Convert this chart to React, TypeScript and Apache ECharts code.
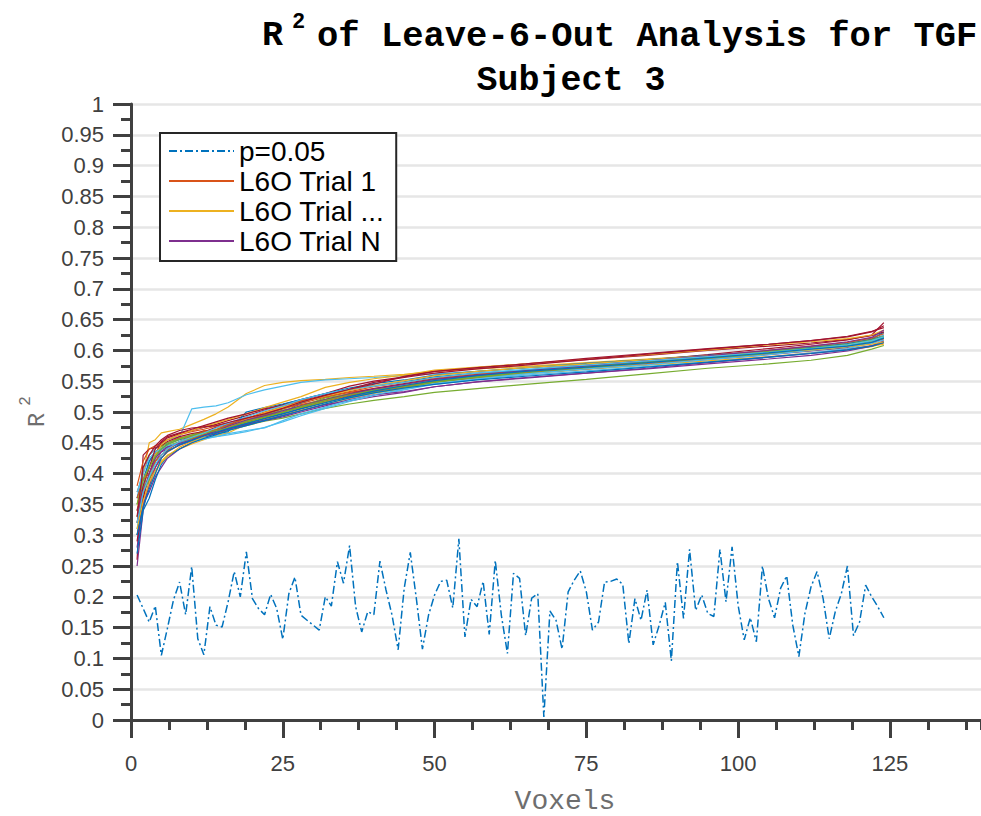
import React, { useEffect, useRef } from 'react';
import * as echarts from 'echarts';

// ---------- data ----------
const X_TICK_LABELS = [0, 25, 50, 75, 100, 125];
const X_MAX = 140;

// p = 0.05 threshold per voxel (voxel 1..124)
const P_VALUES = [
  0.203, 0.181, 0.159, 0.185, 0.105, 0.149, 0.195, 0.224, 0.171, 0.249,
  0.132, 0.106, 0.184, 0.154, 0.151, 0.192, 0.241, 0.200, 0.273, 0.197,
  0.181, 0.171, 0.204, 0.181, 0.131, 0.205, 0.232, 0.170, 0.162, 0.154,
  0.146, 0.200, 0.185, 0.257, 0.222, 0.283, 0.184, 0.143, 0.176, 0.171,
  0.258, 0.211, 0.170, 0.114, 0.214, 0.272, 0.197, 0.115, 0.170, 0.203,
  0.225, 0.227, 0.182, 0.294, 0.135, 0.196, 0.184, 0.225, 0.139, 0.259,
  0.170, 0.108, 0.238, 0.230, 0.137, 0.198, 0.205, 0.005, 0.177, 0.162,
  0.115, 0.208, 0.227, 0.242, 0.208, 0.146, 0.159, 0.224, 0.225, 0.229,
  0.220, 0.124, 0.197, 0.162, 0.211, 0.122, 0.154, 0.191, 0.096, 0.257,
  0.165, 0.277, 0.178, 0.203, 0.173, 0.168, 0.277, 0.192, 0.281, 0.186,
  0.130, 0.166, 0.127, 0.250, 0.197, 0.166, 0.214, 0.234, 0.154, 0.103,
  0.173, 0.216, 0.241, 0.197, 0.132, 0.176, 0.205, 0.250, 0.137, 0.159,
  0.219, 0.200, 0.184, 0.166,
];

// voxels at which the L6O trial curves were read
const TRIAL_X = [1, 2, 3, 4, 5, 6, 8, 10, 12, 14, 16, 19, 22, 25, 28, 32, 36, 40, 45, 50, 57, 65, 75, 85, 95, 105, 112, 118, 122, 124];

const TRIAL_01 = [0.37, 0.40, 0.43, 0.44, 0.445, 0.45, 0.458, 0.462, 0.47, 0.468, 0.478, 0.488, 0.496, 0.505, 0.514, 0.524, 0.532, 0.538, 0.545, 0.553, 0.559, 0.566, 0.574, 0.581, 0.589, 0.597, 0.603, 0.609, 0.616, 0.624];
const TRIAL_02 = [0.34, 0.40, 0.45, 0.455, 0.466, 0.468, 0.472, 0.48, 0.488, 0.497, 0.508, 0.53, 0.543, 0.548, 0.551, 0.553, 0.556, 0.558, 0.561, 0.566, 0.57, 0.574, 0.58, 0.586, 0.592, 0.598, 0.601, 0.603, 0.607, 0.61];
const TRIAL_03 = [0.25, 0.34, 0.39, 0.42, 0.435, 0.44, 0.45, 0.455, 0.462, 0.468, 0.474, 0.482, 0.49, 0.497, 0.506, 0.516, 0.526, 0.533, 0.54, 0.548, 0.556, 0.563, 0.57, 0.577, 0.585, 0.593, 0.599, 0.605, 0.613, 0.62];
const TRIAL_04 = [0.30, 0.36, 0.40, 0.425, 0.44, 0.445, 0.452, 0.458, 0.463, 0.466, 0.47, 0.478, 0.485, 0.49, 0.497, 0.506, 0.513, 0.519, 0.525, 0.532, 0.538, 0.545, 0.553, 0.562, 0.571, 0.578, 0.584, 0.592, 0.602, 0.608];
const TRIAL_05 = [0.36, 0.41, 0.43, 0.44, 0.448, 0.455, 0.46, 0.505, 0.508, 0.51, 0.515, 0.528, 0.536, 0.542, 0.548, 0.552, 0.554, 0.556, 0.559, 0.562, 0.566, 0.571, 0.577, 0.584, 0.591, 0.60, 0.606, 0.612, 0.62, 0.628];
const TRIAL_06 = [0.26, 0.43, 0.44, 0.442, 0.445, 0.452, 0.46, 0.465, 0.468, 0.475, 0.48, 0.487, 0.493, 0.50, 0.51, 0.52, 0.53, 0.538, 0.546, 0.554, 0.561, 0.568, 0.576, 0.584, 0.593, 0.603, 0.61, 0.617, 0.625, 0.645];
const TRIAL_07 = [0.35, 0.38, 0.41, 0.43, 0.44, 0.448, 0.455, 0.46, 0.468, 0.466, 0.476, 0.483, 0.49, 0.498, 0.515, 0.528, 0.536, 0.543, 0.549, 0.557, 0.563, 0.568, 0.575, 0.582, 0.59, 0.598, 0.604, 0.61, 0.618, 0.63];
const TRIAL_08 = [0.38, 0.42, 0.44, 0.445, 0.45, 0.455, 0.463, 0.468, 0.472, 0.477, 0.482, 0.49, 0.498, 0.506, 0.512, 0.52, 0.528, 0.535, 0.542, 0.55, 0.555, 0.566, 0.571, 0.579, 0.586, 0.594, 0.60, 0.607, 0.614, 0.62];
const TRIAL_09 = [0.33, 0.36, 0.38, 0.40, 0.42, 0.43, 0.44, 0.448, 0.455, 0.462, 0.466, 0.48, 0.488, 0.495, 0.503, 0.513, 0.522, 0.53, 0.538, 0.546, 0.554, 0.562, 0.569, 0.576, 0.583, 0.59, 0.596, 0.601, 0.606, 0.612];
const TRIAL_10 = [0.28, 0.35, 0.37, 0.395, 0.41, 0.425, 0.44, 0.45, 0.458, 0.466, 0.472, 0.48, 0.487, 0.494, 0.502, 0.512, 0.518, 0.525, 0.532, 0.541, 0.549, 0.555, 0.563, 0.57, 0.578, 0.586, 0.592, 0.599, 0.607, 0.613];
const TRIAL_11 = [0.32, 0.37, 0.42, 0.435, 0.443, 0.45, 0.457, 0.463, 0.467, 0.472, 0.478, 0.486, 0.495, 0.503, 0.509, 0.523, 0.529, 0.536, 0.543, 0.551, 0.558, 0.565, 0.572, 0.58, 0.588, 0.596, 0.603, 0.609, 0.616, 0.622];
const TRIAL_12 = [0.31, 0.38, 0.42, 0.43, 0.438, 0.442, 0.448, 0.452, 0.456, 0.46, 0.463, 0.468, 0.475, 0.484, 0.494, 0.506, 0.517, 0.527, 0.536, 0.545, 0.553, 0.56, 0.567, 0.574, 0.581, 0.589, 0.596, 0.603, 0.611, 0.617];
const TRIAL_13 = [0.29, 0.36, 0.40, 0.43, 0.45, 0.458, 0.465, 0.47, 0.475, 0.48, 0.486, 0.494, 0.503, 0.512, 0.52, 0.53, 0.542, 0.55, 0.557, 0.566, 0.572, 0.578, 0.585, 0.592, 0.60, 0.607, 0.612, 0.618, 0.624, 0.63];
const TRIAL_14 = [0.36, 0.39, 0.42, 0.435, 0.44, 0.444, 0.45, 0.455, 0.46, 0.464, 0.468, 0.50, 0.507, 0.513, 0.52, 0.53, 0.539, 0.546, 0.552, 0.56, 0.566, 0.572, 0.579, 0.585, 0.592, 0.599, 0.605, 0.611, 0.618, 0.624];
const TRIAL_15 = [0.34, 0.375, 0.39, 0.41, 0.425, 0.435, 0.447, 0.456, 0.463, 0.469, 0.475, 0.484, 0.492, 0.50, 0.508, 0.518, 0.527, 0.534, 0.541, 0.549, 0.556, 0.563, 0.57, 0.578, 0.586, 0.595, 0.601, 0.607, 0.613, 0.619];
const TRIAL_16 = [0.35, 0.39, 0.41, 0.43, 0.447, 0.455, 0.463, 0.47, 0.476, 0.482, 0.488, 0.497, 0.507, 0.516, 0.525, 0.54, 0.548, 0.554, 0.56, 0.568, 0.573, 0.578, 0.586, 0.593, 0.601, 0.609, 0.614, 0.619, 0.625, 0.633];
const TRIAL_17 = [0.30, 0.35, 0.38, 0.41, 0.43, 0.437, 0.446, 0.453, 0.46, 0.466, 0.472, 0.479, 0.486, 0.492, 0.50, 0.51, 0.52, 0.528, 0.533, 0.541, 0.549, 0.556, 0.563, 0.571, 0.58, 0.589, 0.595, 0.601, 0.608, 0.615];
const TRIAL_18 = [0.33, 0.37, 0.39, 0.42, 0.43, 0.44, 0.45, 0.458, 0.465, 0.47, 0.476, 0.485, 0.493, 0.50, 0.507, 0.516, 0.524, 0.532, 0.539, 0.548, 0.556, 0.563, 0.571, 0.58, 0.587, 0.595, 0.601, 0.608, 0.614, 0.621];
const TRIAL_19 = [0.37, 0.40, 0.425, 0.435, 0.44, 0.445, 0.45, 0.455, 0.458, 0.46, 0.465, 0.47, 0.474, 0.486, 0.497, 0.508, 0.519, 0.528, 0.537, 0.546, 0.554, 0.562, 0.57, 0.577, 0.585, 0.593, 0.60, 0.606, 0.613, 0.625];
const TRIAL_20 = [0.32, 0.38, 0.41, 0.44, 0.452, 0.46, 0.466, 0.472, 0.478, 0.484, 0.49, 0.497, 0.505, 0.511, 0.518, 0.527, 0.537, 0.548, 0.556, 0.563, 0.57, 0.576, 0.585, 0.594, 0.602, 0.61, 0.616, 0.622, 0.63, 0.64];
const TRIAL_21 = [0.27, 0.34, 0.36, 0.39, 0.415, 0.428, 0.44, 0.45, 0.457, 0.463, 0.47, 0.478, 0.486, 0.494, 0.502, 0.513, 0.523, 0.531, 0.539, 0.545, 0.552, 0.558, 0.565, 0.573, 0.581, 0.589, 0.595, 0.601, 0.607, 0.613];
const TRIAL_22 = [0.36, 0.39, 0.40, 0.42, 0.43, 0.438, 0.452, 0.46, 0.468, 0.471, 0.48, 0.489, 0.50, 0.509, 0.518, 0.525, 0.533, 0.541, 0.548, 0.555, 0.562, 0.565, 0.573, 0.583, 0.591, 0.60, 0.607, 0.613, 0.62, 0.627];
const TRIAL_23 = [0.31, 0.355, 0.385, 0.405, 0.418, 0.428, 0.443, 0.452, 0.46, 0.468, 0.476, 0.488, 0.499, 0.508, 0.516, 0.526, 0.535, 0.543, 0.551, 0.559, 0.566, 0.572, 0.578, 0.585, 0.591, 0.597, 0.601, 0.606, 0.61, 0.614];
const TRIAL_24 = [0.34, 0.37, 0.40, 0.425, 0.436, 0.443, 0.449, 0.455, 0.462, 0.469, 0.477, 0.487, 0.494, 0.502, 0.51, 0.52, 0.529, 0.537, 0.545, 0.553, 0.56, 0.567, 0.575, 0.583, 0.591, 0.60, 0.607, 0.614, 0.621, 0.633];
const TRIAL_25 = [0.35, 0.39, 0.41, 0.428, 0.44, 0.447, 0.456, 0.461, 0.466, 0.47, 0.474, 0.483, 0.491, 0.499, 0.509, 0.519, 0.528, 0.535, 0.541, 0.549, 0.557, 0.565, 0.573, 0.581, 0.589, 0.598, 0.604, 0.61, 0.617, 0.623];
const TRIAL_26 = [0.32, 0.37, 0.395, 0.415, 0.43, 0.44, 0.452, 0.459, 0.466, 0.474, 0.482, 0.492, 0.502, 0.51, 0.52, 0.53, 0.537, 0.542, 0.548, 0.556, 0.563, 0.569, 0.576, 0.583, 0.59, 0.597, 0.603, 0.609, 0.616, 0.622];
const TRIAL_27 = [0.33, 0.41, 0.43, 0.445, 0.455, 0.462, 0.47, 0.474, 0.476, 0.478, 0.483, 0.49, 0.497, 0.506, 0.516, 0.527, 0.537, 0.545, 0.558, 0.566, 0.572, 0.578, 0.587, 0.595, 0.603, 0.61, 0.616, 0.623, 0.631, 0.637];
const TRIAL_28 = [0.30, 0.345, 0.375, 0.40, 0.425, 0.436, 0.447, 0.454, 0.461, 0.467, 0.473, 0.481, 0.489, 0.497, 0.505, 0.515, 0.525, 0.534, 0.543, 0.551, 0.559, 0.566, 0.573, 0.58, 0.588, 0.596, 0.602, 0.607, 0.613, 0.62];

const TRIALS = [
  TRIAL_01, TRIAL_02, TRIAL_03, TRIAL_04, TRIAL_05, TRIAL_06, TRIAL_07,
  TRIAL_08, TRIAL_09, TRIAL_10, TRIAL_11, TRIAL_12, TRIAL_13, TRIAL_14,
  TRIAL_15, TRIAL_16, TRIAL_17, TRIAL_18, TRIAL_19, TRIAL_20, TRIAL_21,
  TRIAL_22, TRIAL_23, TRIAL_24, TRIAL_25, TRIAL_26, TRIAL_27, TRIAL_28,
];

const LEGEND_NAMES = ['p=0.05', 'L6O Trial 1', 'L6O Trial ...', 'L6O Trial N'];
const COLORS = ['#0072BD', '#D95319', '#EDB120', '#7E2F8E', '#77AC30', '#4DBEEE', '#A2142F'];

const AXIS_COLOR = '#404040';
const SANS = '"Liberation Sans", Arial, Helvetica, sans-serif';
const MONO = '"Liberation Mono", "Courier New", monospace';

export default function App() {
  const ref = useRef<HTMLDivElement>(null);

  useEffect(() => {
    if (!ref.current) return;
    const chart = echarts.init(ref.current, undefined, { renderer: 'svg' });

    const trialName = (k: number) =>
      k === 0 ? LEGEND_NAMES[1] : k === 1 ? LEGEND_NAMES[2] : k === 2 ? LEGEND_NAMES[3] : 'L6O Trial ' + (k + 1);

    const series: any[] = [
      {
        name: LEGEND_NAMES[0],
        type: 'line',
        data: P_VALUES.map((v, i) => [i + 1, v]),
        symbol: 'none',
        lineStyle: { color: COLORS[0], width: 1.5, type: [8, 3, 2, 3] },
        itemStyle: { color: COLORS[0] },
        z: 2,
      },
      ...TRIALS.map((t, k) => ({
        name: trialName(k),
        type: 'line',
        data: TRIAL_X.map((x, i) => [x, t[i]]),
        symbol: 'none',
        lineStyle: { color: COLORS[(k + 1) % 7], width: 1.2 },
        itemStyle: { color: COLORS[(k + 1) % 7] },
        z: 3,
      })),
    ];

    chart.setOption({
      animation: false,
      backgroundColor: '#ffffff',
      grid: { left: 131, right: 0, top: 104, bottom: 96, containLabel: false },
      legend: {
        data: LEGEND_NAMES,
        orient: 'vertical',
        left: 160,
        top: 133,
        itemWidth: 65,
        itemHeight: 14,
        itemGap: 2,
        padding: [4, 12, 6, 8],
        backgroundColor: '#ffffff',
        borderColor: '#262626',
        borderWidth: 2,
        borderRadius: 0,
        selectedMode: false,
        itemStyle: { opacity: 0 },
        textStyle: { fontSize: 28, color: '#000000', fontFamily: SANS },
      },
      xAxis: [
        {
          type: 'value',
          min: 0,
          max: X_MAX,
          interval: 25,
          position: 'bottom',
          axisLine: { show: true, onZero: false, lineStyle: { color: AXIS_COLOR, width: 3 } },
          axisTick: { show: true, length: 18, lineStyle: { color: AXIS_COLOR, width: 3 } },
          axisLabel: {
            showMaxLabel: false,
            fontSize: 22,
            color: AXIS_COLOR,
            fontFamily: SANS,
            margin: 32,
            formatter: (v: number) => (X_TICK_LABELS.indexOf(v) >= 0 ? String(v) : ''),
          },
          splitLine: { show: false },
        },
        {
          type: 'value',
          min: 0,
          max: X_MAX,
          interval: 6.25,
          position: 'bottom',
          axisLine: { show: false, onZero: false },
          axisTick: { show: true, length: 10, lineStyle: { color: AXIS_COLOR, width: 3 } },
          axisLabel: { show: false },
          splitLine: { show: false },
        },
      ],
      yAxis: {
        type: 'value',
        min: 0,
        max: 1,
        interval: 0.05,
        axisLine: { show: true, onZero: false, lineStyle: { color: AXIS_COLOR, width: 3 } },
        axisTick: { show: true, length: 18, lineStyle: { color: AXIS_COLOR, width: 3 } },
        minorTick: { show: true, splitNumber: 2, length: 10, lineStyle: { color: AXIS_COLOR, width: 3 } },
        splitLine: { show: true, lineStyle: { color: '#e6e6e6', width: 2.5 } },
        axisLabel: {
          fontSize: 22,
          color: AXIS_COLOR,
          fontFamily: SANS,
          margin: 27,
          formatter: (v: number) => String(parseFloat(v.toFixed(2))),
        },
      },
      graphic: [
        { type: 'text', x: 262, y: 36, style: { text: 'R', font: 'bold 35px ' + MONO, fill: '#000', textAlign: 'left', textVerticalAlign: 'middle' } },
        { type: 'text', x: 292, y: 22, style: { text: '2', font: 'bold 22px ' + MONO, fill: '#000', textAlign: 'left', textVerticalAlign: 'middle' } },
        { type: 'text', x: 317, y: 36, style: { text: 'of Leave-6-Out Analysis for TGF', font: 'bold 35.5px ' + MONO, fill: '#000', textAlign: 'left', textVerticalAlign: 'middle' } },
        { type: 'text', x: 571, y: 81, style: { text: 'Subject 3', font: 'bold 35px ' + MONO, fill: '#000', textAlign: 'center', textVerticalAlign: 'middle' } },
        { type: 'text', x: 565, y: 801, style: { text: 'Voxels', font: '28px ' + MONO, fill: '#6e6e6e', textAlign: 'center', textVerticalAlign: 'middle' } },
        { type: 'text', x: 37, y: 420, rotation: Math.PI / 2, style: { text: 'R', font: '24px ' + MONO, fill: '#6e6e6e', textAlign: 'center', textVerticalAlign: 'middle' } },
        { type: 'text', x: 26, y: 401, rotation: Math.PI / 2, style: { text: '2', font: '16px ' + MONO, fill: '#6e6e6e', textAlign: 'center', textVerticalAlign: 'middle' } },
      ],
      series,
    });

    return () => chart.dispose();
  }, []);

  return (
    <div
      ref={ref}
      style={{ position: 'absolute', left: 0, top: 0, width: 981, height: 816, background: '#fff' }}
    />
  );
}
